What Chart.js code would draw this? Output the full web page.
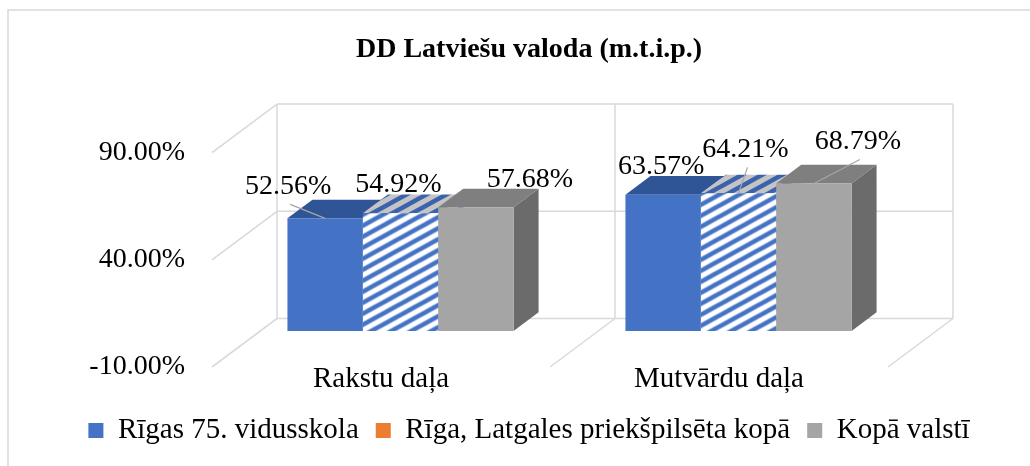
<!DOCTYPE html>
<html>
<head>
<meta charset="utf-8">
<script src="https://cdn.jsdelivr.net/npm/chart.js@4.4.1/dist/chart.umd.min.js"></script>
<style>
html,body{margin:0;padding:0;background:#fff;}
#wrap{width:1030px;height:466px;position:relative;}
</style>
</head>
<body>
<div id="wrap"><canvas id="c" width="1030" height="466"></canvas></div>
<script>
// ---- data ----
const titleText = 'DD Latviešu valoda (m.t.i.p.)';
const categories = ['Rakstu daļa', 'Mutvārdu daļa'];
const seriesNames = ['Rīgas 75. vidusskola', 'Rīga, Latgales priekšpilsēta kopā', 'Kopā valstī'];
const rigas75 = [52.56, 63.57];
const latgale = [54.92, 64.21];
const valsti = [57.68, 68.79];
const yTicks = [-10, 40, 90];

// ---- styles ----
const legendColors = ['#4472C4', '#ED7D31', '#A5A5A5'];
const topColors = ['#2F5597', null, '#7F7F7F'];
const sideColors = ['#2F5597', null, '#6B6B6B'];
const gridColor = '#D9D9D9';
const FONT = 'Liberation Serif';
const DEPTH = {x: 65, y: -48.5};
const BAR_FRONT = 0.3, BAR_BACK = 0.685;
// label placement offsets (px) from the front-top centre of each bar, per series per category
const labelOffsets = [
  [[-37, -32], [-2, -28]],
  [[-2, -29], [7, -44]],
  [[54, -28], [44, -42]]
];
const leaders = [[true, false], [false, true], [false, true]];

function makeStripe(bg, fg) {
  const W = 20, H = 11;
  const c = document.createElement('canvas');
  c.width = W; c.height = H;
  const g = c.getContext('2d');
  g.fillStyle = bg; g.fillRect(0, 0, W, H);
  g.strokeStyle = fg; g.lineWidth = 4.6;
  for (let k = -2; k <= 2; k++) {
    g.beginPath();
    g.moveTo(-W, 2 * H + k * H);
    g.lineTo(2 * W, -H + k * H);
    g.stroke();
  }
  return g.createPattern(c, 'repeat');
}
const stripeFront = makeStripe('#FFFFFF', '#4472C4');
const stripeTop = makeStripe('#C4C4C4', '#3B63AD');
const stripeSide = makeStripe('#D0D0D0', '#35589A');
topColors[1] = stripeTop;
sideColors[1] = stripeSide;

function line(ctx, x1, y1, x2, y2) {
  ctx.beginPath(); ctx.moveTo(x1, y1); ctx.lineTo(x2, y2); ctx.stroke();
}
function poly(ctx, pts, fill) {
  ctx.beginPath();
  ctx.moveTo(pts[0][0], pts[0][1]);
  for (let i = 1; i < pts.length; i++) ctx.lineTo(pts[i][0], pts[i][1]);
  ctx.closePath();
  ctx.fillStyle = fill; ctx.fill();
}

const threeD = {
  id: 'threeD',
  beforeDraw(chart) {
    const ctx = chart.ctx;
    ctx.save();
    ctx.fillStyle = '#fff';
    ctx.fillRect(0, 0, chart.width, chart.height);
    ctx.strokeStyle = gridColor; ctx.lineWidth = 1.5;
    ctx.strokeRect(8, 10, chart.width + 40, chart.height + 40);
    ctx.restore();
  },
  beforeDatasetsDraw(chart) {
    const ctx = chart.ctx, ca = chart.chartArea, ys = chart.scales.y;
    const L = ca.left, R = ca.right, dx = DEPTH.x, dy = DEPTH.y;
    ctx.save();
    ctx.strokeStyle = gridColor; ctx.lineWidth = 1.5;
    yTicks.forEach(v => {
      const y = ys.getPixelForValue(v);
      line(ctx, L, y, L + dx, y + dy);
      line(ctx, L + dx, y + dy, R + dx, y + dy);
    });
    const yTop = ys.getPixelForValue(ys.max), yBot = ys.getPixelForValue(ys.min);
    const n = categories.length, cw = (R - L) / n;
    for (let i = 0; i <= n; i++) {
      const x = L + i * cw;
      line(ctx, x + dx, yTop + dy, x + dx, yBot + dy);
      line(ctx, x, yBot, x + dx, yBot + dy);
    }
    ctx.restore();
    // top and side faces, painted left to right
    const fx = dx * BAR_FRONT, fy = dy * BAR_FRONT;
    const ddx = dx * (BAR_BACK - BAR_FRONT), ddy = dy * (BAR_BACK - BAR_FRONT);
    const nd = chart.data.datasets.length;
    ctx.save();
    for (let j = 0; j < n; j++) {
      for (let d = 0; d < nd; d++) {
        const bar = chart.getDatasetMeta(d).data[j];
        const p = bar.getProps(['x', 'y', 'base', 'width'], true);
        const l = p.x - p.width / 2 + fx, r = p.x + p.width / 2 + fx;
        const t = Math.min(p.y, p.base) + fy, b = Math.max(p.y, p.base) + fy;
        poly(ctx, [[r, t], [r + ddx, t + ddy], [r + ddx, b + ddy], [r, b]], sideColors[d]);
        poly(ctx, [[l, t], [r, t], [r + ddx, t + ddy], [l + ddx, t + ddy]], topColors[d]);
      }
    }
    ctx.restore();
    ctx.save();
    ctx.translate(fx, fy);
  },
  afterDatasetsDraw(chart) {
    const ctx = chart.ctx;
    ctx.restore();
    const fx = DEPTH.x * BAR_FRONT, fy = DEPTH.y * BAR_FRONT;
    ctx.save();
    ctx.font = '28px "' + FONT + '"';
    ctx.textAlign = 'center';
    ctx.textBaseline = 'middle';
    chart.data.datasets.forEach((ds, d) => {
      chart.getDatasetMeta(d).data.forEach((bar, j) => {
        const p = bar.getProps(['x', 'y'], true);
        const ax = p.x + fx, ay = p.y + fy;
        const lx = ax + labelOffsets[d][j][0], ly = ay + labelOffsets[d][j][1];
        if (leaders[d][j]) {
          ctx.strokeStyle = '#A6A6A6'; ctx.lineWidth = 1.2;
          line(ctx, lx + 2, ly + 18, ax, ay);
        }
        ctx.fillStyle = '#000';
        ctx.fillText(ds.data[j].toFixed(2) + '%', lx, ly);
      });
    });
    ctx.restore();
  }
};

Chart.defaults.font.family = FONT;
Chart.defaults.color = '#000';

new Chart(document.getElementById('c'), {
  type: 'bar',
  data: {
    labels: categories,
    datasets: [
      {label: seriesNames[0], data: rigas75, backgroundColor: '#4472C4'},
      {label: seriesNames[1], data: latgale, backgroundColor: stripeFront},
      {label: seriesNames[2], data: valsti, backgroundColor: '#A5A5A5'}
    ]
  },
  options: {
    responsive: false,
    animation: false,
    devicePixelRatio: 1,
    datasets: {bar: {categoryPercentage: 0.669, barPercentage: 1, borderWidth: 0, clip: false}},
    layout: {padding: {top: 33, left: 28, right: 0, bottom: 11}},
    plugins: {
      title: {
        display: true, text: titleText, color: '#000',
        font: {family: FONT, size: 28, weight: 'bold'},
        padding: {top: 0, bottom: 86}
      },
      legend: {
        position: 'bottom',
        labels: {
          font: {family: FONT, size: 29}, color: '#000',
          boxWidth: 15, boxHeight: 15, padding: 17,
          generateLabels(chart) {
            return chart.data.datasets.map((ds, i) => ({
              text: ds.label, fillStyle: legendColors[i], strokeStyle: legendColors[i],
              lineWidth: 0, hidden: false, datasetIndex: i, fontColor: '#000'
            }));
          }
        }
      },
      tooltip: {enabled: false}
    },
    scales: {
      x: {
        type: 'category', offset: true,
        grid: {display: false, drawTicks: false},
        border: {display: false},
        ticks: {font: {family: FONT, size: 29}, color: '#000', padding: -5.5, maxRotation: 0, autoSkip: false},
        afterFit(s) { s.height = 32; },
        afterUpdate(s) { s._computeLabelArea = function () { return undefined; }; }
      },
      y: {
        min: -10, max: 90,
        grid: {display: false, drawTicks: false},
        border: {display: false},
        ticks: {font: {family: FONT, size: 28}, color: '#000', padding: 27,
          callback: v => Number(v).toFixed(2) + '%'},
        afterBuildTicks(s) { s.ticks = yTicks.map(v => ({value: v})); },
        afterFit(s) { s.width = 184; }
      },
      yRight: {
        position: 'right', display: true,
        grid: {display: false, drawTicks: false},
        border: {display: false},
        ticks: {display: false},
        afterFit(s) { s.width = 142; }
      }
    }
  },
  plugins: [threeD]
});
</script>
</body>
</html>
